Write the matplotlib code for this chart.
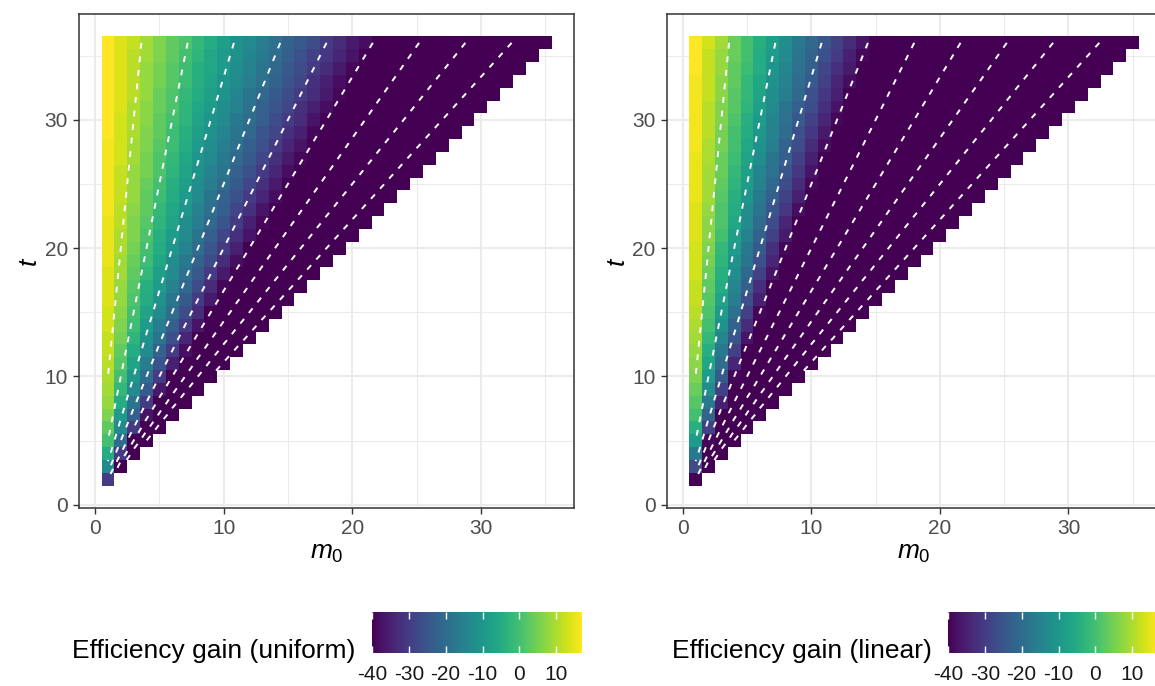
import numpy as np
import matplotlib
matplotlib.use("Agg")
import matplotlib.pyplot as plt
from matplotlib.colors import Normalize

plt.rcParams.update({
    "font.family": ["Liberation Sans", "DejaVu Sans"],
    "mathtext.fontset": "custom",
    "mathtext.rm": "Liberation Sans",
    "mathtext.it": "Liberation Sans:italic",
    "axes.unicode_minus": False,
})

# grid coordinates: number of tests t (rows) and true nulls m0 (columns), m0 < t
t_values = np.arange(2, 37)
m0_values = np.arange(1, 36)

# efficiency gain per row t = 2..36, listed for m0 = 1, 2, ... ;
# cells past the end of a row sit at or below the colour floor
COLOR_FLOOR = -40

uniform_rows = [
    [-30],
    [-13],
    [-5, -30],
    [0, -20],
    [3, -13, -30],
    [6, -9, -23, -37],
    [8, -5, -18, -30],
    [9, -2, -13, -24, -36],
    [10, 0, -10, -20, -30],
    [11, 2, -7, -16, -25, -35],
    [12, 3, -5, -13, -22, -30, -38],
    [12, 5, -3, -11, -18, -26, -34],
    [13, 6, -1, -9, -16, -23, -30, -37],
    [13, 7, 0, -7, -13, -20, -27, -33],
    [14, 8, 1, -5, -11, -18, -24, -30, -36],
    [14, 8, 2, -4, -9, -15, -21, -27, -33, -39],
    [14, 9, 3, -2, -8, -13, -19, -24, -30, -36],
    [15, 9, 4, -1, -6, -12, -17, -22, -27, -33, -38],
    [15, 10, 5, 0, -5, -10, -15, -20, -25, -30, -35],
    [15, 10, 6, 1, -4, -9, -13, -18, -23, -28, -32, -37],
    [15, 11, 6, 2, -3, -7, -12, -16, -21, -25, -30, -35, -39],
    [16, 11, 7, 3, -2, -6, -10, -15, -19, -23, -28, -32, -37],
    [16, 12, 8, 3, -1, -5, -9, -13, -18, -22, -26, -30, -34, -38],
    [16, 12, 8, 4, 0, -4, -8, -12, -16, -20, -24, -28, -32, -36],
    [16, 12, 8, 5, 1, -3, -7, -11, -15, -18, -22, -26, -30, -34, -38],
    [16, 13, 9, 5, 1, -2, -6, -10, -13, -17, -21, -24, -28, -32, -36, -39],
    [16, 13, 9, 6, 2, -1, -5, -9, -12, -16, -19, -23, -26, -30, -34, -37],
    [17, 13, 10, 6, 3, -1, -4, -8, -11, -14, -18, -21, -25, -28, -32, -35, -39],
    [17, 13, 10, 7, 3, 0, -3, -7, -10, -13, -17, -20, -23, -27, -30, -33, -37],
    [17, 14, 10, 7, 4, 1, -3, -6, -9, -12, -15, -19, -22, -25, -28, -32, -35, -38],
    [17, 14, 11, 8, 4, 1, -2, -5, -8, -11, -14, -18, -21, -24, -27, -30, -33, -36, -39],
    [17, 14, 11, 8, 5, 2, -1, -4, -7, -10, -13, -16, -19, -22, -25, -28, -32, -35, -38],
    [17, 14, 11, 8, 5, 2, -1, -4, -6, -9, -12, -15, -18, -21, -24, -27, -30, -33, -36, -39],
    [17, 14, 11, 9, 6, 3, 0, -3, -6, -9, -11, -14, -17, -20, -23, -26, -29, -31, -34, -37],
    [17, 14, 12, 9, 6, 3, 1, -2, -5, -8, -11, -13, -16, -19, -22, -24, -27, -30, -33, -36, -38],
]

linear_rows = [
    [],
    [-27],
    [-17],
    [-9, -39],
    [-4, -29],
    [0, -22],
    [2, -17, -35],
    [4, -12, -29],
    [6, -9, -24, -39],
    [7, -6, -20, -34],
    [8, -4, -17, -29],
    [9, -2, -14, -25, -37],
    [10, 0, -11, -22, -33],
    [11, 1, -9, -19, -29, -39],
    [12, 2, -7, -16, -26, -35],
    [12, 3, -5, -14, -23, -32],
    [13, 4, -4, -12, -21, -29, -37],
    [13, 5, -3, -11, -18, -26, -34],
    [13, 6, -2, -9, -17, -24, -32, -39],
    [14, 7, 0, -8, -15, -22, -29, -36],
    [14, 7, 1, -6, -13, -20, -27, -34],
    [14, 8, 1, -5, -12, -18, -25, -31, -38],
    [15, 9, 2, -4, -10, -17, -23, -29, -35],
    [15, 9, 3, -3, -9, -15, -21, -27, -33, -39],
    [15, 9, 4, -2, -8, -14, -19, -25, -31, -37],
    [15, 10, 4, -1, -7, -12, -18, -23, -29, -35],
    [16, 10, 5, 0, -6, -11, -16, -22, -27, -33, -38],
    [16, 11, 5, 0, -5, -10, -15, -20, -26, -31, -36],
    [16, 11, 6, 1, -4, -9, -14, -19, -24, -29, -34, -39],
    [16, 11, 6, 2, -3, -8, -13, -18, -23, -27, -32, -37],
    [16, 12, 7, 2, -2, -7, -12, -16, -21, -26, -31, -35],
    [16, 12, 7, 3, -2, -6, -11, -15, -20, -24, -29, -34, -38],
    [17, 12, 8, 3, -1, -5, -10, -14, -19, -23, -28, -32, -36],
    [17, 12, 8, 4, 0, -5, -9, -13, -18, -22, -26, -30, -35, -39],
    [17, 13, 9, 4, 0, -4, -8, -12, -17, -21, -25, -29, -33, -37],
]

# dashed reference contours of the null share m0 / t
share_levels = [0.1, 0.2, 0.3, 0.4, 0.5, 0.6, 0.7, 0.8, 0.9]

axis_ticks = [0, 10, 20, 30]
axis_minor_ticks = [5, 15, 25, 35]
colorbar_ticks = [-40, -30, -20, -10, 0, 10]
legend_titles = ["Efficiency gain (uniform)", "Efficiency gain (linear)"]


def build_grid(rows):
    grid = np.full((len(t_values), len(m0_values)), np.nan)
    for i, t in enumerate(t_values):
        n_cells = t - 1
        row = list(rows[i]) + [COLOR_FLOOR] * (n_cells - len(rows[i]))
        grid[i, :n_cells] = row
    return np.ma.masked_invalid(grid)


M0, T = np.meshgrid(m0_values, t_values)
share = np.ma.masked_where(M0 >= T, M0 / T)

x_edges = np.append(m0_values - 0.5, m0_values[-1] + 0.5)
y_edges = np.append(t_values - 0.5, t_values[-1] + 0.5)

W, H = 1155, 686
fig = plt.figure(figsize=(W / 100, H / 100), dpi=100)

panel_left_px = [79, 666.7]
cbar_left_px = [372, 948]
title_left_px = [72, 672]

border = "#333333"
grid_col = "#EBEBEB"
tick_text = "#4D4D4D"

for k, rows in enumerate([uniform_rows, linear_rows]):
    values = build_grid(rows)
    norm = Normalize(vmin=COLOR_FLOOR, vmax=float(values.max()))

    ax = fig.add_axes([panel_left_px[k] / W, 1 - 508 / H, 495 / W, 494 / H])
    ax.set_xlim(-1.25, 37.25)
    ax.set_ylim(-0.25, 38.25)
    ax.set_axisbelow(True)
    ax.set_xticks(axis_ticks)
    ax.set_yticks(axis_ticks)
    ax.set_xticks(axis_minor_ticks, minor=True)
    ax.set_yticks(axis_minor_ticks, minor=True)
    ax.grid(which="major", color=grid_col, linewidth=1.5)
    ax.grid(which="minor", color=grid_col, linewidth=0.75)
    ax.tick_params(which="major", length=4.5, width=1.0, color=border,
                   labelsize=15, labelcolor=tick_text, pad=3.5)
    ax.tick_params(which="minor", length=0)
    for sp in ax.spines.values():
        sp.set_color(border)
        sp.set_linewidth(1.1)

    mesh = ax.pcolormesh(x_edges, y_edges, values, cmap="viridis", norm=norm)
    cs = ax.contour(m0_values, t_values, share, levels=share_levels,
                    colors="white", linewidths=1.4)
    cs.set_linestyle((0, (3, 4)))

    cx = (panel_left_px[k] + 247.5) / W
    fig.text(cx, 1 - 553 / H, r"$m_0$", ha="center", va="center", fontsize=19)
    fig.text((panel_left_px[k] - 49) / W, 1 - 262 / H, r"$t$", ha="center",
             va="center", fontsize=19, rotation=90)

    cax = fig.add_axes([cbar_left_px[k] / W, 1 - 653 / H, 210 / W, 41 / H])
    cb = fig.colorbar(mesh, cax=cax, orientation="horizontal",
                      ticks=colorbar_ticks)
    cb.outline.set_visible(False)
    cax.tick_params(axis="x", direction="in", color="white", length=5,
                    width=1.0, top=True, bottom=True, labeltop=False,
                    labelsize=15, labelcolor="#1A1A1A", pad=9)

    fig.text(title_left_px[k] / W, 1 - 651 / H, legend_titles[k],
             ha="left", va="center", fontsize=19)

fig.savefig("out.png", dpi=100)
